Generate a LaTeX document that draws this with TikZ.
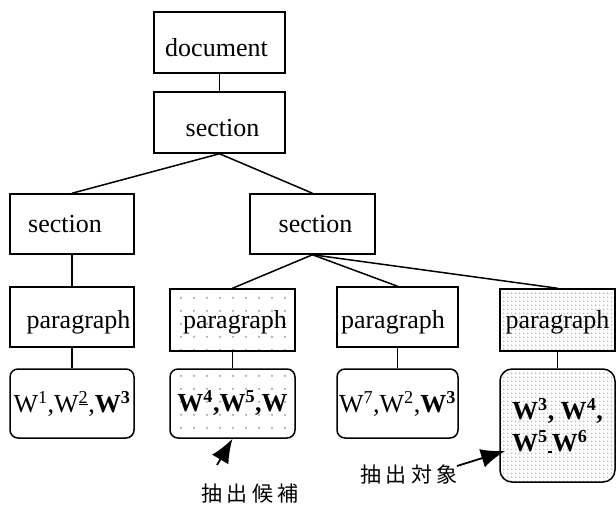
\documentclass[tikz,border=0pt]{standalone}
\usepackage{fontspec}
\setmainfont{Liberation Serif}
\newfontfamily\jpfont[LetterSpace=22]{Noto Sans CJK JP}
\usepackage{tikz}
\usetikzlibrary{arrows.meta,patterns.meta}

\tikzset{
  box/.style={draw, line width=1.5pt, inner sep=0pt, text height=20pt, text depth=0pt},
  wbox/.style={draw, line width=1.5pt, rounded corners=8pt, inner sep=0pt},
  sparse/.style={pattern={Dots[distance=13pt,radius=1.3pt]}, pattern color=gray!65},
  dense/.style={pattern={Dots[distance=4pt,radius=1.1pt]}, pattern color=gray!50},
  link/.style={line width=1.5pt},
  pick/.style={line width=1.8pt, -{Latex[length=24pt,width=19pt]}}
}

\begin{document}
\begin{tikzpicture}[x=1pt, y=-1pt, font=\fontsize{26}{31}\selectfont]
  \useasboundingbox (0,0) rectangle (616,505);
  % tree
  \node[box, text height=29pt, minimum width=131pt, minimum height=61pt] (doc) at (219.5,42.5) {document\hspace*{6pt}};
  \node[box, text height=29pt, minimum width=131pt, minimum height=61pt] (sec) at (219.5,122.5) {\hspace*{6pt}section};
  \node[box, text height=18pt, minimum width=124pt, minimum height=60pt] (lsec) at (72,224) {section\hspace*{14pt}};
  \node[box, text height=18pt, minimum width=125pt, minimum height=60pt] (rsec) at (312.5,224) {\hspace*{6pt}section};
  \node[box, text height=22pt, minimum width=124pt, minimum height=60pt] (lpara) at (72,317) {\hspace*{13pt}paragraph};
  \node[box, sparse, text height=16pt, minimum width=125pt, minimum height=62pt] (para2) at (232.5,320) {\hspace*{5pt}paragraph};
  \node[box, text height=22pt, minimum width=121pt, minimum height=60pt] (para3) at (397.5,317) {paragraph\hspace*{9pt}};
  \node[box, dense, text height=16pt, minimum width=115pt, minimum height=62pt] (para4) at (557.5,320) {paragraph};
  % words
  \node[wbox, minimum width=124pt, minimum height=69pt] (w1) at (72,403.5) {W\textsuperscript{1},W\textsuperscript{\underline{2}},\textbf{W\textsuperscript{3}}};
  \node[wbox, sparse, minimum width=125pt, minimum height=69pt] (w2) at (232.5,403.5) {\textbf{W\textsuperscript{4},W\textsuperscript{5},W}};
  \node[wbox, minimum width=121pt, minimum height=69pt] (w3) at (397.5,403.5) {W\textsuperscript{7},W\textsuperscript{2},\textbf{W\textsuperscript{3}}};
  \node[wbox, dense, rounded corners=12pt, align=left, minimum width=115pt, minimum height=113pt] (w4) at (557.5,425.5) {\textbf{W\textsuperscript{3}, W\textsuperscript{4},}\\[1pt]\textbf{W\textsuperscript{5}\rule[-1pt]{4pt}{1.2pt}W\textsuperscript{6}}};

  \draw[link] (doc) -- (sec);
  \draw[link] (sec.south) -- (lsec.north);
  \draw[link] (sec.south) -- (rsec.north);
  \draw[link] (lsec) -- (lpara);
  \draw[link] (rsec.south) -- (para2.north);
  \draw[link] (rsec.south) -- (para3.north);
  \draw[link] (rsec.south) -- (para4.north);
  \draw[link] (lpara) -- (w1);
  \draw[link] (para2) -- (w2);
  \draw[link] (para3) -- (w3);
  \draw[link] (para4) -- (w4);

  % labels
  \node[font=\jpfont\fontsize{21}{24}\selectfont] (cand) at (250,494) {抽出候補};
  \node[font=\jpfont\fontsize{21}{24}\selectfont] (targ) at (409,475) {抽出対象};
  \coordinate (c1) at (217,465);
  \coordinate (c2) at (457,466);
  \coordinate (c3) at (505,451);
  \draw[pick] (c1) -- (w2.south);
  \draw[pick] (c2) -- (c3);
\end{tikzpicture}
\end{document}
